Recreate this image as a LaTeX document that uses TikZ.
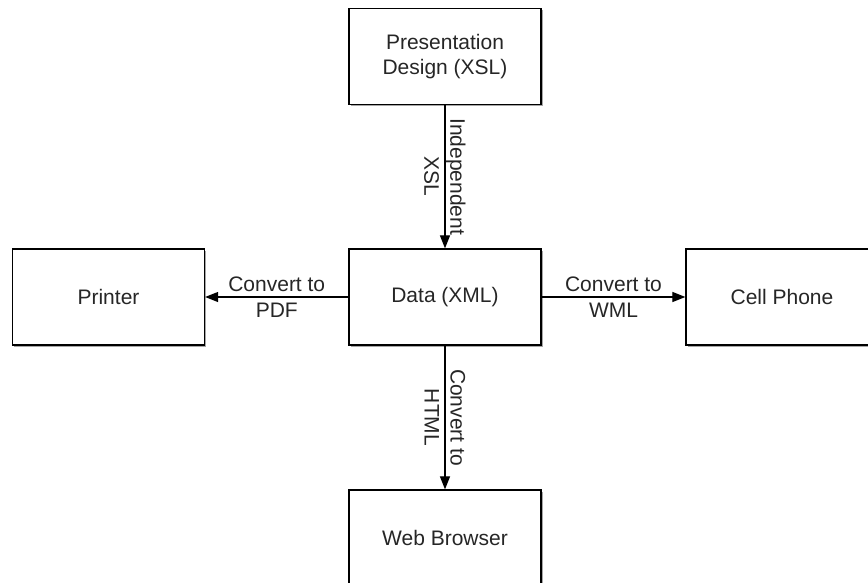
\documentclass[tikz,border=0pt]{standalone}
\usepackage{fontspec}
\setmainfont{Liberation Sans}
\usetikzlibrary{arrows.meta,shadows}
\begin{document}
\begin{tikzpicture}[x=1pt,y=-1pt,
  box/.style={draw=black,line width=1.3pt,fill=white,minimum width=192pt,minimum height=96pt,
    inner sep=0pt,align=center,font=\fontsize{21}{25}\selectfont,text=black!85,
    drop shadow={shadow xshift=1.5pt,shadow yshift=-1.5pt,opacity=0.35,fill=black}},
  link/.style={line width=1.2pt,-{Triangle[length=13pt,width=10pt]}},
  lbl/.style={align=center,font=\fontsize{21}{26}\selectfont,text=black!85,inner sep=0pt}]
\useasboundingbox (0,0) rectangle (868,582);
\clip (0,0) rectangle (868,582);
% the five boxes
\node[box] (pres)    at (445,56.5) {Presentation\\Design (XSL)};
\node[box] (data)    at (445,297)  {Data (XML)};
\node[box] (printer) at (108.5,297) {Printer};
\node[box] (cell)    at (782,297)  {Cell Phone};
\node[box] (web)     at (445,538)  {Web Browser};
% connectors with their labels
\draw[link] (pres.south) -- node[lbl,rotate=-90] {Independent\\XSL} (data.north);
\draw[link] (data.west) -- node[lbl] {Convert to\\PDF} (printer.east);
\draw[link] (data.east) -- node[lbl] {Convert to\\WML} (cell.west);
\draw[link] (data.south) -- node[lbl,rotate=-90] {Convert to\\HTML} (web.north);
\end{tikzpicture}
\end{document}
